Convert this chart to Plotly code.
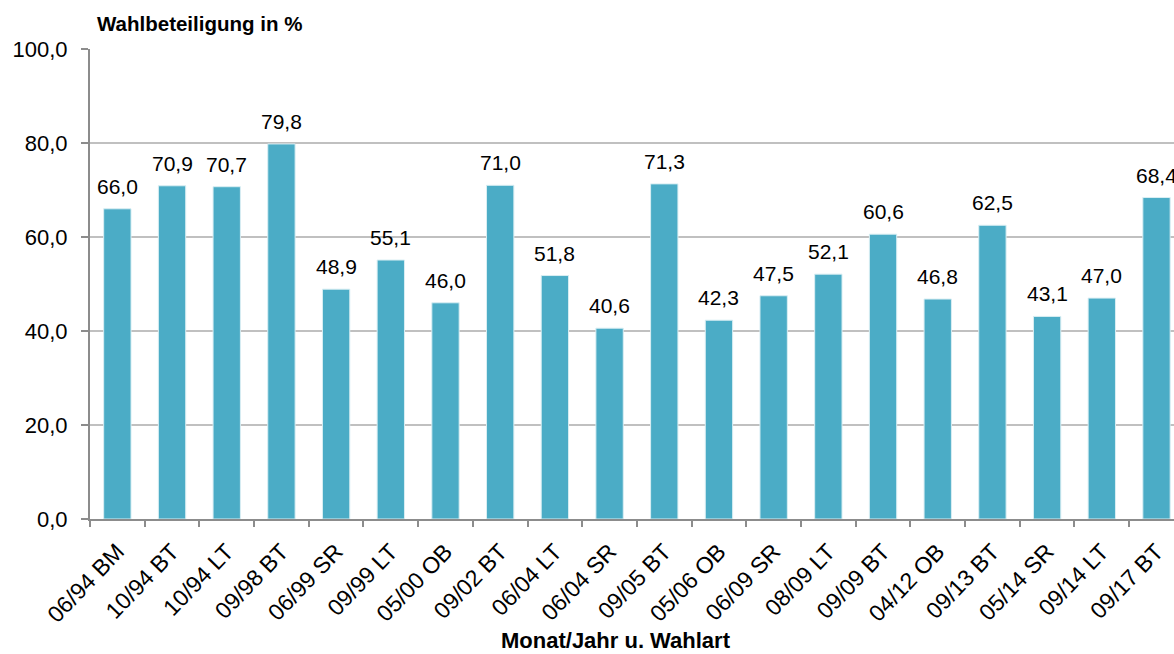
import plotly.graph_objects as go

# Wahlen und Wahlbeteiligung
wahlen = ["06/94 BM", "10/94 BT", "10/94 LT", "09/98 BT", "06/99 SR", "09/99 LT",
          "05/00 OB", "09/02 BT", "06/04 LT", "06/04 SR", "09/05 BT", "05/06 OB",
          "06/09 SR", "08/09 LT", "09/09 BT", "04/12 OB", "09/13 BT", "05/14 SR",
          "09/14 LT", "09/17 BT"]
beteiligung = [66.0, 70.9, 70.7, 79.8, 48.9, 55.1, 46.0, 71.0, 51.8, 40.6,
               71.3, 42.3, 47.5, 52.1, 60.6, 46.8, 62.5, 43.1, 47.0, 68.4]
y_ticks = [0, 20, 40, 60, 80, 100]

FONT = "Liberation Sans, Arial, sans-serif"


def de_num(v):
    return f"{v:.1f}".replace(".", ",")


fig = go.Figure(
    go.Bar(
        x=wahlen,
        y=beteiligung,
        marker=dict(color="#4BACC6", line=dict(color="#D9EEF3", width=1)),
        hoverinfo="skip",
    )
)

# value labels above each bar
for name, val in zip(wahlen, beteiligung):
    fig.add_annotation(
        x=name, y=val, text=de_num(val),
        xref="x", yref="y",
        xanchor="center", yanchor="bottom",
        yshift=9, showarrow=False,
        font=dict(family=FONT, size=21, color="#000000"),
    )

fig.update_layout(
    width=1174,
    height=654,
    margin=dict(l=90, r=0, t=49, b=135),
    paper_bgcolor="white",
    plot_bgcolor="white",
    bargap=0.5,
    showlegend=False,
    font=dict(family=FONT, color="#000000"),
)

fig.update_xaxes(
    type="category",
    range=[-0.5, 19.32],
    tickangle=-46,
    tickfont=dict(family=FONT, size=23, color="#000000"),
    ticklabelstandoff=8,
    ticks="outside",
    tickson="boundaries",
    ticklen=6,
    tickwidth=2,
    tickcolor="#8C8C8C",
    showline=True,
    linecolor="#8C8C8C",
    linewidth=2,
    showgrid=False,
)

fig.update_yaxes(
    range=[0, 100],
    tickvals=y_ticks,
    ticktext=[de_num(v) for v in y_ticks],
    tickfont=dict(family=FONT, size=22, color="#000000"),
    ticklabelstandoff=9,
    ticks="outside",
    ticklen=7,
    tickwidth=2,
    tickcolor="#8C8C8C",
    showline=True,
    linecolor="#8C8C8C",
    linewidth=2,
    showgrid=True,
    gridcolor="#C0C0C0",
    gridwidth=1.5,
    zeroline=False,
)

fig.add_annotation(
    text="<b>Wahlbeteiligung in %</b>",
    xref="paper", yref="paper", x=0.005, y=1.055,
    xanchor="left", yanchor="middle",
    showarrow=False,
    font=dict(family=FONT, size=20.5, color="#000000"),
)
fig.add_annotation(
    text="<b>Monat/Jahr u. Wahlart</b>",
    xref="paper", yref="paper", x=0.485, y=-0.259,
    xanchor="center", yanchor="middle",
    showarrow=False,
    font=dict(family=FONT, size=22, color="#000000"),
)

fig.write_html("out.html")
